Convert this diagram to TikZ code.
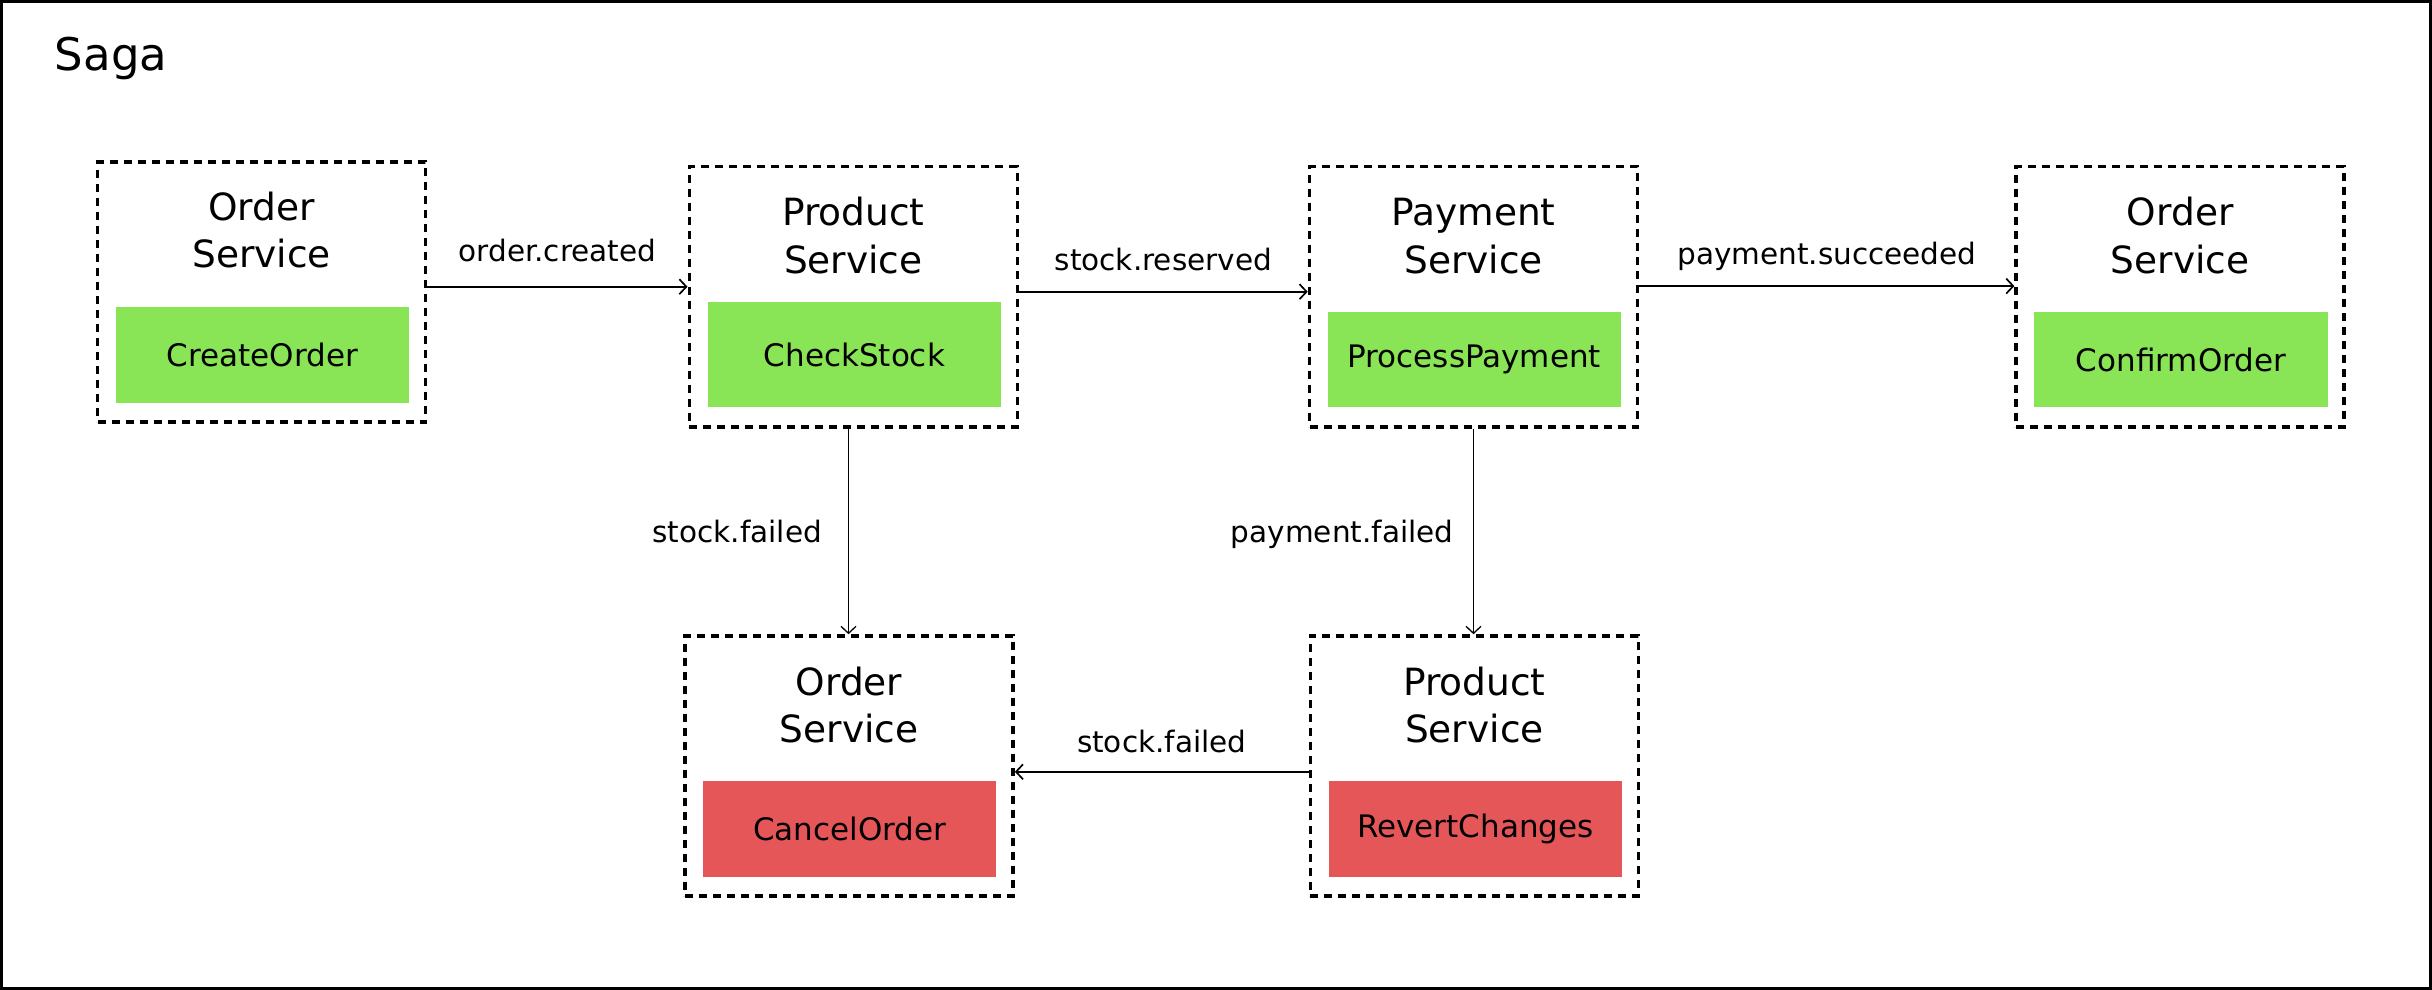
\documentclass[tikz,border=0pt]{standalone}
\usepackage{fontspec}
\setmainfont{DejaVu Sans}
\usetikzlibrary{arrows.meta}
\definecolor{okgreen}{HTML}{89E556}
\definecolor{failred}{HTML}{E55658}

\begin{document}
\begin{tikzpicture}[x=0.5pt, y=-0.5pt, >={Straight Barb[length=3.5pt,width=7.5pt]}]
  \tikzstyle{service}=[draw=black, line width=1.8pt, dash pattern=on 4pt off 3pt, minimum width=164pt, minimum height=130pt, inner sep=0pt]
  \tikzstyle{svctitle}=[align=center, font=\fontsize{18.75pt}{23.75pt}\selectfont, inner sep=0pt]
  \tikzstyle{stepok}=[fill=okgreen, minimum width=146.65pt, minimum height=47.75pt, inner sep=0pt, font=\fontsize{15.5pt}{19pt}\selectfont]
  \tikzstyle{stepfail}=[stepok, fill=failred]
  \tikzstyle{msg}=[font=\fontsize{14.75pt}{18pt}\selectfont, inner sep=0pt, text depth=0pt]
  \tikzstyle{flow}=[->, line width=0.85pt]

  \useasboundingbox (0,0) rectangle (2432,990);
  \draw[line width=1.5pt] (1.5,1.5) rectangle (2430.5,988.5);
  \node[anchor=base west, inner sep=0pt, font=\fontsize{22.5pt}{27pt}\selectfont] (saga) at (54.5,70.7) {Saga};

  % happy path
  \node[service] (svcA) at (261.65,292)  {};
  \node[service] (svcB) at (853.3,296.7) {};
  \node[service] (svcC) at (1473.5,296.7) {};
  \node[service] (svcD) at (2180.2,296.7) {};
  % compensation
  \node[service] (svcE) at (849.05,766) {};
  \node[service] (svcF) at (1474.4,766) {};

  \node[svctitle] (ttlA) at (261.65,229.9) {Order\\Service};
  \node[svctitle] (ttlB) at (853.3,235.4)  {Product\\Service};
  \node[svctitle] (ttlC) at (1473.5,236)   {Payment\\Service};
  \node[svctitle] (ttlD) at (2180.2,235.4) {Order\\Service};
  \node[svctitle] (ttlE) at (849.05,705)   {Order\\Service};
  \node[svctitle] (ttlF) at (1474.4,705)   {Product\\Service};

  \node[stepok]   (stpA) at (262.35,354.85) {CreateOrder};
  \node[stepok, minimum height=52.65pt] (stpB) at (854.4,354.65) {CheckStock};
  \node[stepok]   (stpC) at (1474.25,359.65) {ProcessPayment};
  \node[stepok]   (stpD) at (2181,359.65)    {ConfirmOrder};
  \node[stepfail] (stpE) at (849.75,829.1)   {CancelOrder};
  \node[stepfail] (stpF) at (1475.45,829.1)  {RevertChanges};

  \path[flow] ([yshift=2.65pt]svcA.east) edge node[msg, above=12pt] {order.created} ([yshift=2.65pt]svcA.east -| svcB.west)
              ([yshift=2.5pt]svcB.east)  edge node[msg, above=10.35pt] {stock.reserved} ([yshift=2.5pt]svcB.east -| svcC.west)
              ([yshift=5.3pt]svcC.east)  edge node[msg, above=10.5pt] {payment.succeeded} ([yshift=5.3pt]svcC.east -| svcD.west)
              ([xshift=-2.4pt]svcB.south) edge[line width=0.65pt] node[msg, left=13pt] {stock.failed} ([xshift=-2.4pt]svcB.south |- svcE.north)
              (svcC.south) edge[line width=0.65pt] node[msg, left=9.75pt] {payment.failed} (svcC.south |- svcF.north)
              ([yshift=-2.9pt]svcF.west) edge node[msg, above=9.25pt] {stock.failed} ([yshift=-2.9pt]svcF.west -| svcE.east);
\end{tikzpicture}
\end{document}
